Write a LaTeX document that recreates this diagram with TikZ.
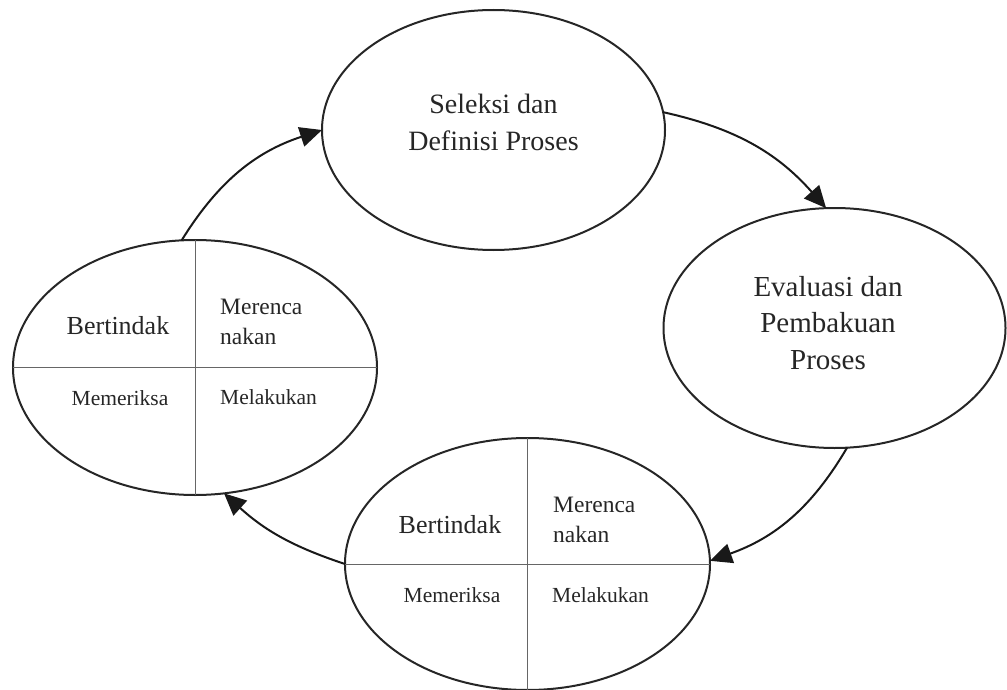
\documentclass[tikz,border=0pt]{standalone}
\usepackage{fontspec}
\setmainfont{Liberation Serif}
\usetikzlibrary{shapes.geometric,arrows.meta}
\begin{document}
\begin{tikzpicture}[x=1pt,y=-1pt,
  oval/.style={draw=black!85, line width=2pt, ellipse, inner sep=0pt, outer sep=0pt},
  flow/.style={line width=2pt, draw=black!90, -{Triangle[length=22pt,width=20pt]}},
  quad/.style={line width=0.9pt, draw=black!60},
  txt/.style={text=black!85, inner sep=0pt},
  big/.style={txt, align=center, font=\fontsize{28}{37}\selectfont},
  qbig/.style={txt, font=\fontsize{26}{30}\selectfont},
  qmid/.style={txt, align=left, anchor=west, font=\fontsize{23.5}{30}\selectfont},
  qsmall/.style={txt, font=\fontsize{21.5}{26}\selectfont}
]
\useasboundingbox (0,0) rectangle (1007,690);

% ellipses
\node[oval, minimum width=343pt, minimum height=240pt] (T) at (493.5,130) {};
\node[oval, minimum width=342pt, minimum height=240pt] (R) at (834.5,328) {};
\node[oval, minimum width=364pt, minimum height=255pt] (L) at (195,367.5) {};
\node[oval, minimum width=365pt, minimum height=252pt] (B) at (527.5,564) {};

% quadrant lines
\draw[quad] (L.north) -- (L.south);
\draw[quad] (L.west) -- (L.east);
\draw[quad] (B.north) -- (B.south);
\draw[quad] (B.west) -- (B.east);

% texts
\node[big] (Tt) at (493.5,122) {Seleksi dan\\Definisi Proses};
\node[big, font=\fontsize{29}{36.5}\selectfont] (Rt) at (828,323) {Evaluasi dan\\Pembakuan\\Proses};

\node[qbig] (L1) at (118,326) {Bertindak};
\node[qmid] (L2) at (220,322) {Merenca\\nakan};
\node[qsmall] (L3) at (120,398) {Memeriksa};
\node[qsmall, anchor=west] (L4) at (220,397) {Melakukan};

\node[qbig] (B1) at (450,525) {Bertindak};
\node[qmid] (B2) at (553,520) {Merenca\\nakan};
\node[qsmall] (B3) at (452,595) {Memeriksa};
\node[qsmall, anchor=west] (B4) at (552,595) {Melakukan};

% connectors
\draw[flow] (L.96) to[bend left=20] (T.180);
\draw[flow] (T.6) to[bend left=18] (R.94);
\draw[flow] (R.-84) to[bend left=20] (B.1);
\draw[flow] (B.180) to[bend left=12] (L.-77);
\end{tikzpicture}
\end{document}
